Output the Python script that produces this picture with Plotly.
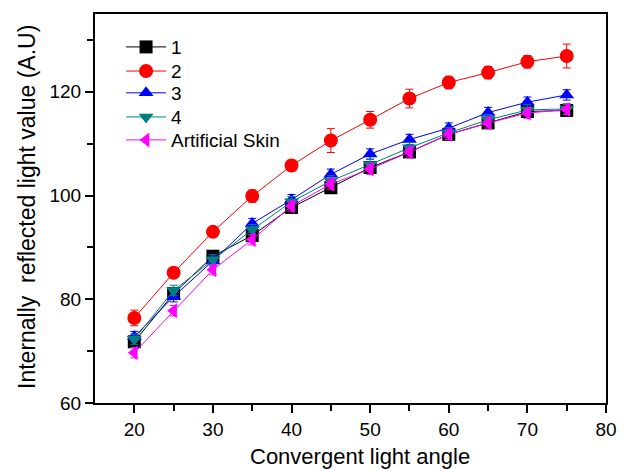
import plotly.graph_objects as go

angles = [20, 25, 30, 35, 40, 45, 50, 55, 60, 65, 70, 75]
s1 = [71.8, 81.1, 88.3, 92.3, 97.7, 101.5, 105.4, 108.4, 111.8, 114.0, 116.2, 116.4]
s2 = [76.4, 85.1, 93.0, 99.9, 105.8, 110.6, 114.6, 118.7, 121.8, 123.7, 125.8, 126.9]
s3 = [72.8, 80.5, 87.4, 94.6, 99.2, 104.1, 108.0, 110.8, 113.0, 116.0, 118.0, 119.4]
s4 = [72.3, 81.7, 87.6, 93.4, 98.8, 102.8, 106.0, 109.2, 112.1, 114.6, 116.5, 116.7]
skin = [69.7, 77.8, 85.7, 91.5, 98.0, 102.2, 105.1, 108.4, 111.8, 114.0, 115.9, 116.6]

e1 = [1.0, 1.0, 1.0, 1.0, 1.0, 1.0, 1.0, 1.0, 0.8, 1.0, 1.0, 1.0]
e2 = [1.5, 0.8, 0.8, 1.2, 1.0, 2.3, 1.6, 1.8, 1.2, 1.2, 1.2, 2.3]
e3 = [1.0, 1.0, 1.0, 1.0, 1.0, 1.0, 1.0, 1.0, 1.0, 1.0, 1.0, 1.0]
e4 = [1.0, 1.0, 1.0, 1.0, 1.0, 1.0, 1.0, 1.0, 1.0, 1.0, 1.0, 1.0]
e5 = [1.0, 1.0, 1.0, 1.0, 1.0, 1.0, 1.0, 1.0, 1.0, 1.0, 1.0, 1.0]

names = ["1", "2", "3", "4", "Artificial Skin"]
colors = ["#000000", "#FF0000", "#0000FF", "#008080", "#FF00FF"]
symbols = ["square", "circle", "triangle-up", "triangle-down", "triangle-left"]
series = [s1, s2, s3, s4, skin]
errs = [e1, e2, e3, e4, e5]

FONT = "Arial, Liberation Sans, sans-serif"

legend_ids = ["legend", "legend2", "legend3", "legend4", "legend5"]
legend_y = [0.915, 0.853, 0.797, 0.735, 0.676]

fig = go.Figure()
for n, c, sym, ys, er, lg in zip(names, colors, symbols, series, errs, legend_ids):
    fig.add_trace(go.Scatter(
        x=angles, y=ys, name=n, mode="lines+markers", legend=lg,
        line=dict(color=c, width=1),
        marker=dict(symbol=sym, size=14 if sym == "circle" else 13, color=c, line=dict(width=0)),
        error_y=dict(type="data", array=er, color=c, thickness=1, width=4, visible=True),
    ))

legend_common = dict(x=0.051, xanchor="left", yanchor="middle",
                     bgcolor="rgba(0,0,0,0)", font=dict(size=19, family=FONT, color="black"),
                     itemwidth=40, borderwidth=0)
legend_layout = {}
for lg, ly in zip(legend_ids, legend_y):
    legend_layout[lg] = dict(y=ly, **legend_common)

fig.update_layout(
    width=634, height=469,
    margin=dict(l=95, r=28, t=14, b=66),
    paper_bgcolor="white", plot_bgcolor="white",
    font=dict(family=FONT, color="black", size=19),
    showlegend=True,
    xaxis=dict(range=[15, 80], tickvals=[20, 30, 40, 50, 60, 70, 80],
               ticks="outside", ticklen=8, tickwidth=2, tickcolor="black",
               minor=dict(tickvals=[25, 35, 45, 55, 65, 75], ticks="outside", ticklen=6, tickwidth=2, tickcolor="black"),
               showline=True, linecolor="black", linewidth=2, mirror=True,
               showgrid=False, zeroline=False, tickfont=dict(size=19)),
    yaxis=dict(range=[60, 135], tickvals=[60, 80, 100, 120],
               ticks="outside", ticklen=8, tickwidth=2, tickcolor="black",
               minor=dict(tickvals=[70, 90, 110, 130], ticks="outside", ticklen=6, tickwidth=2, tickcolor="black"),
               showline=True, linecolor="black", linewidth=2, mirror=True,
               showgrid=False, zeroline=False, tickfont=dict(size=19)),
    annotations=[
        dict(text="Convergent light angle", xref="paper", yref="paper",
             x=0.519, y=-0.1, xanchor="center", yanchor="top", showarrow=False,
             font=dict(size=22)),
        dict(text="Internally  reflected light value (A.U)", xref="paper", yref="paper",
             x=-0.133, y=0.504, xanchor="center", yanchor="middle", showarrow=False,
             textangle=-90, font=dict(size=23)),
    ],
    **legend_layout,
)

fig.write_html("out.html", config={"displayModeBar": False},
               post_script="document.body.style.margin='0';document.body.style.overflow='hidden';")
